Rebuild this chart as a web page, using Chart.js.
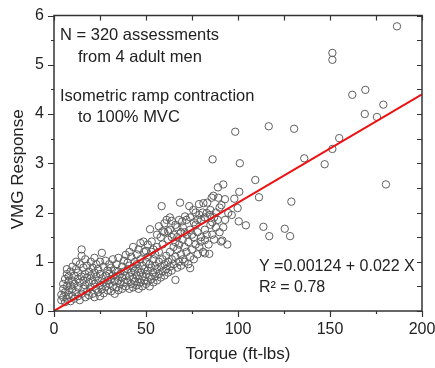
<!DOCTYPE html>
<html>
<head>
<meta charset="utf-8">
<title>VMG Response vs Torque</title>
<script src="https://cdn.jsdelivr.net/npm/chart.js@4.4.0/dist/chart.umd.min.js"></script>
<style>
  html, body { margin: 0; padding: 0; background: #fff; }
  canvas { display: block; }
</style>
</head>
<body>
<canvas id="vmgChart" width="435" height="368"></canvas>
<script>
// [torque (ft-lbs), VMG response]
const lowTorque = [
  [4,0.22],[4,0.33],[5,0.28],[5,0.45],[5,0.55],[6,0.18],[6,0.38],[6,0.65],[7,0.25],[7,0.5],[7,0.75],[7,0.85],
  [8,0.32],[8,0.42],[8,0.6],[8,0.7],[9,0.2],[9,0.52],[9,0.8],[10,0.3],[10,0.45],[10,0.62],[10,0.9],
  [11,0.25],[11,0.55],[11,0.72],[12,0.38],[12,0.85],[12,1.0],[13,0.3],[13,0.48],[13,0.65],[13,0.78],
  [14,0.22],[14,0.58],[14,0.95],[15,0.35],[15,0.7],[15,1.12],[15,1.25],[16,0.45],[16,0.62],[16,0.88],
  [17,0.28],[17,0.52],[17,0.75],[17,1.05],[18,0.4],[18,0.68],[18,0.92],[19,0.32],[19,0.58],[19,0.8],
  [20,0.48],[20,0.72],[20,1.0],[21,0.35],[21,0.62],[21,0.88],[22,0.28],[22,0.55],[22,0.78],[22,1.08],
  [23,0.45],[23,0.7],[23,0.95],[24,0.38],[24,0.62],[24,0.85],[25,0.3],[25,0.52],[25,0.75],[25,1.0],
  [26,0.44],[26,0.66],[26,1.18],[27,0.36],[27,0.58],[27,0.9],[28,0.5],[28,0.72],[28,1.02],
  [29,0.42],[29,0.62],[29,0.82],[30,0.55],[30,0.76],[30,0.95]
];
const midTorque = [
  [31,0.4],[31,0.65],[31,0.88],[32,0.5],[32,0.72],[32,1.05],[33,0.35],[33,0.6],[33,0.82],
  [34,0.48],[34,0.7],[34,0.95],[35,0.42],[35,0.62],[35,0.8],[35,1.08],[36,0.55],[36,0.75],
  [37,0.45],[37,0.68],[37,0.9],[38,0.58],[38,0.8],[38,1.02],[39,0.5],[39,0.72],[39,1.14],
  [40,0.62],[40,0.85],[40,0.98],[41,0.45],[41,0.7],[41,0.92],[41,1.2],[42,0.55],[42,0.78],[42,1.1],
  [43,0.48],[43,0.66],[43,0.88],[43,1.3],[44,0.6],[44,0.82],[44,1.0],[45,0.52],[45,0.72],[45,0.95],[45,1.15],
  [46,0.45],[46,0.65],[46,0.86],[46,1.25],[47,0.58],[47,0.78],[47,1.05],[47,1.38],[48,0.5],[48,0.7],[48,0.92],[48.6,1.41],
  [49,0.62],[49,0.85],[49,1.2],[50,0.55],[50,0.75],[50,1.0],[50,1.22],[51,0.6],[51,0.82],[51,1.1],[51,1.35],
  [52,0.5],[52,0.7],[52,0.95],[52.2,1.66],[53,0.65],[53,0.88],[53,1.2],[53.1,1.41],[54,0.58],[54,0.78],[54,1.05],[54,1.25],
  [55,0.7],[55,0.92],[55,1.15],[56,0.62],[56,0.85],[56,1.3],[56,1.55],[57,0.75],[57,1.0],[57,1.2],[57,1.72],
  [58,0.68],[58,0.9],[58,1.5],[58.5,2.13],[59,0.8],[59,1.05],[59,1.35],[59,1.62],[60,0.72],[60,0.95],[60,1.6],[60,1.78]
];
const highTorque = [
  [61,0.85],[61,1.12],[61.2,1.85],[62,0.78],[62,1.0],[62,1.45],[62,1.62],[63,0.9],[63,1.2],[63,1.65],[63,1.9],
  [64,0.82],[64,1.05],[64,1.5],[64,1.83],[65,0.95],[65,1.3],[65,1.55],[66,0.63],[66,1.1],[66,1.4],[66,1.75],
  [67,0.88],[67,1.25],[67,1.5],[67,1.7],[68,1.0],[68,1.35],[68,1.85],[68.5,2.2],[69,0.92],[69,1.15],[69,1.6],[69.7,1.82],
  [70,1.05],[70,1.45],[70,1.7],[71,1.0],[71,1.3],[71,1.6],[71.2,1.92],[72,1.2],[72,1.55],[72,1.85],
  [73,0.95],[73,1.4],[73.5,2.13],[74,0.87],[74,1.1],[74,1.65],[74,1.9],[75,1.25],[75,1.55],[75.7,2.05],
  [76,1.05],[76,1.5],[76,1.8],[77,1.35],[77,1.75],[77,2.0],[78,1.15],[78,1.6],[78,1.85],[78.8,2.17],
  [79,1.3],[79,1.95],[79.7,1.41],[80,1.5],[80,1.85],[80.8,2.0],
  [81,1.2],[81.2,2.19],[82,1.17],[82,1.44],[82,1.65],[82,1.9],[83,1.55],[83,1.99],[83.3,2.2],[84,1.35],[84.4,1.16],
  [84.8,1.95],[85,1.75],[85,2.05],[85.7,2.3],[86,1.55],[86,1.8],[86.6,2.34],[87,1.45],[87,1.9],[88,1.7],[88,2.0],
  [89,1.85],[89.3,2.3],[90,1.6],[90,2.1],[90.8,1.41],[91,2.15],[91.5,1.43],[92,1.7],[92.9,2.27],[93,1.85],[94.2,1.35],
  [94.7,1.99],[96.6,1.95],[98,2.28],[99.8,2.09],[100.4,1.82],[100.7,2.42],[104.3,1.74]
];
const outliers = [
  [86.2,3.08],[89.1,2.51],[92,2.57],[98.5,3.64],[101,3.0],[109.4,2.66],[111.4,2.31],[113.8,1.71],
  [116.7,3.75],[117,1.52],[125.4,1.67],[128.3,1.52],[129,2.22],[130.5,3.7],[136,3.1],[147.1,2.98],
  [151.3,3.29],[151.3,5.1],[151.3,5.24],[155,3.51],[162.1,4.39],[168.9,4.0],[169.2,4.49],
  [175.5,3.94],[179,4.19],[180.4,2.57],[186.4,5.78]
];

// fit printed on the chart
const fitIntercept = 0.00124;
const fitSlope = 0.022;
const fitRange = [0, 200];

const xTicks = [0, 50, 100, 150, 200];
const yTicks = [0, 1, 2, 3, 4, 5, 6];

const FONT = '"Liberation Sans", Arial, sans-serif';
Chart.defaults.font.family = FONT;
Chart.defaults.color = '#222';

const points = [...lowTorque, ...midTorque, ...highTorque, ...outliers].map(p => ({ x: p[0], y: p[1] }));
const fitLine = fitRange.map(v => ({ x: v, y: fitIntercept + fitSlope * v }));

const framePlugin = {
  id: 'frame',
  afterDraw(chart) {
    const { ctx, chartArea: a, scales: { x, y } } = chart;
    ctx.save();
    ctx.strokeStyle = '#333';
    ctx.lineWidth = 1.5;
    ctx.strokeRect(a.left, a.top, a.right - a.left, a.bottom - a.top);

    ctx.lineWidth = 1.2;
    ctx.beginPath();
    for (let v = 0; v <= 200; v += 25) {
      const px = Math.round(x.getPixelForValue(v)) + 0.5;
      const major = v % 50 === 0;
      ctx.moveTo(px, a.bottom); ctx.lineTo(px, a.bottom + (major ? 6 : 3));
      ctx.moveTo(px, a.top); ctx.lineTo(px, a.top + 5);
    }
    for (let v = 0; v <= 6; v += 0.5) {
      const py = Math.round(y.getPixelForValue(v)) + 0.5;
      const major = v % 1 === 0;
      ctx.moveTo(a.left, py); ctx.lineTo(a.left - (major ? 6 : 3), py);
      ctx.moveTo(a.right, py); ctx.lineTo(a.right - 5, py);
    }
    ctx.stroke();

    // annotations
    ctx.fillStyle = '#222';
    ctx.textBaseline = 'middle';
    ctx.textAlign = 'left';
    ctx.font = '16.5px ' + FONT;
    ctx.fillText('N = 320 assessments', 60, 35);
    ctx.fillText('from 4 adult men', 78, 57);
    ctx.fillText('Isometric ramp contraction', 60, 96);
    ctx.fillText('to 100% MVC', 78, 117);
    ctx.font = '16px ' + FONT;
    ctx.fillText('Y =0.00124 + 0.022 X', 259, 267);
    ctx.fillText('R\u00B2 = 0.78', 259, 288);

    // axis titles
    ctx.font = '17px ' + FONT;
    ctx.textAlign = 'center';
    ctx.fillText('Torque (ft-lbs)', x.getPixelForValue(100), 354);
    ctx.translate(18, (a.top + a.bottom) / 2 + 6);
    ctx.rotate(-Math.PI / 2);
    ctx.fillText('VMG Response', 0, 0);
    ctx.restore();
  }
};

new Chart(document.getElementById('vmgChart'), {
  type: 'scatter',
  data: {
    datasets: [
      {
        type: 'line',
        label: 'Fit',
        data: fitLine,
        borderColor: '#ee1111',
        borderWidth: 2,
        pointRadius: 0,
        fill: false
      },
      {
        label: 'Assessments',
        data: points,
        pointStyle: 'circle',
        pointRadius: 3.7,
        borderColor: '#5e5e5e',
        borderWidth: 1,
        backgroundColor: 'rgba(255,255,255,0)'
      }
    ]
  },
  options: {
    responsive: false,
    animation: false,
    layout: { autoPadding: false, padding: { top: 15.5, right: 13, bottom: 0, left: 0 } },
    plugins: { legend: { display: false }, tooltip: { enabled: false } },
    scales: {
      x: {
        type: 'linear',
        min: 0, max: 200,
        afterFit: s => { s.height = 57; s.paddingLeft = 0; s.paddingRight = 0; },
        afterBuildTicks: s => { s.ticks = xTicks.map(v => ({ value: v })); },
        grid: { display: false, drawTicks: false },
        border: { display: false },
        ticks: { padding: 9, font: { size: 16 }, color: '#222' }
      },
      y: {
        type: 'linear',
        min: 0, max: 6,
        afterFit: s => { s.width = 54; s.paddingTop = 0; s.paddingBottom = 0; },
        afterBuildTicks: s => { s.ticks = yTicks.map(v => ({ value: v })); },
        grid: { display: false, drawTicks: false },
        border: { display: false },
        ticks: { padding: 10, font: { size: 16 }, color: '#222' }
      }
    }
  },
  plugins: [framePlugin]
});
</script>
</body>
</html>
